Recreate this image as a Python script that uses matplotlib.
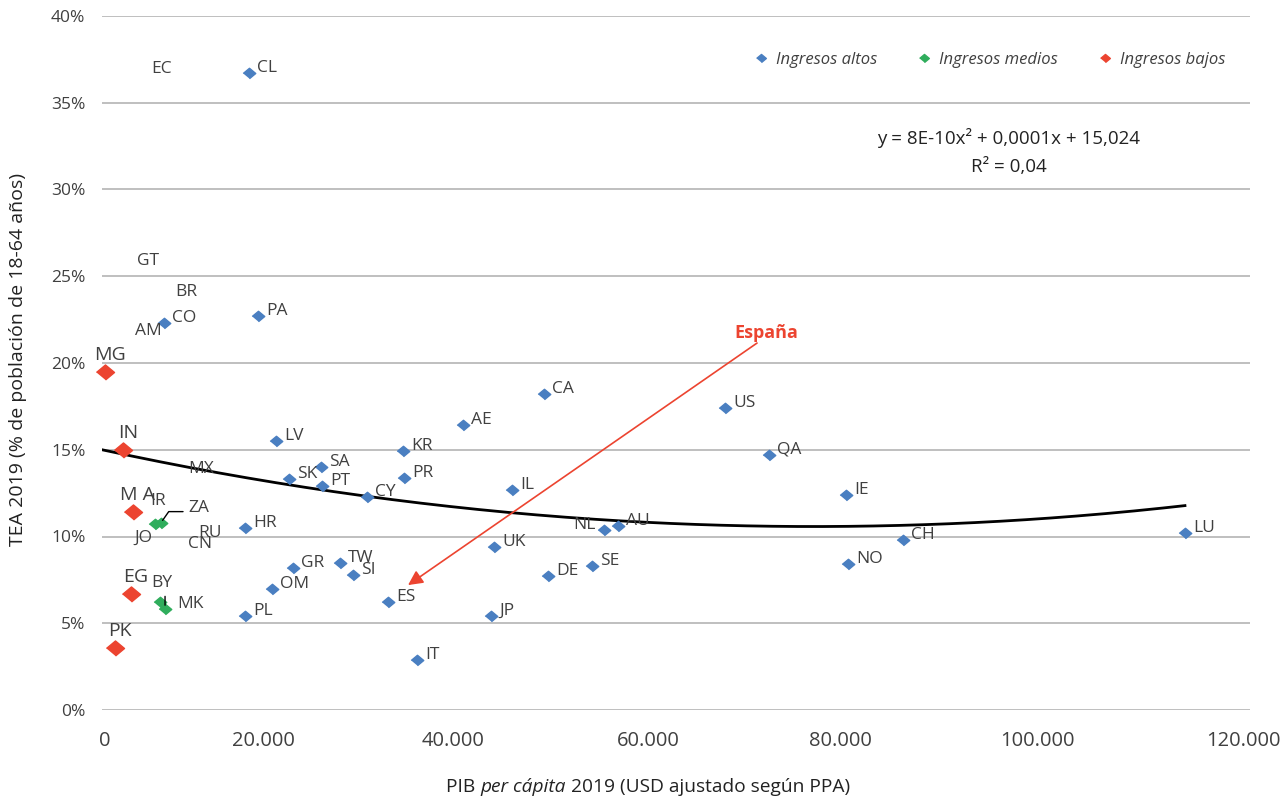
import numpy as np
import matplotlib
matplotlib.use('Agg')
from matplotlib import pyplot as plt
from matplotlib.lines import Line2D
from matplotlib.transforms import ScaledTranslation

# Ingresos altos (PIB per capita USD PPA, TEA %)
alto_cod = ['CL', 'CO', 'PA', 'LV', 'SK', 'SA', 'PT', 'CY', 'HR', 'KR', 'PR',
            'AE', 'CA', 'US', 'QA', 'IL', 'IE', 'NL', 'AU', 'CH', 'LU', 'UK',
            'NO', 'DE', 'SE', 'TW', 'SI', 'GR', 'OM', 'PL', 'ES', 'JP', 'IT']
alto_pib = [15370, 6480, 16310, 18190, 19550, 22890, 23000, 27700, 14950, 31460, 31570,
            37730, 46200, 65120, 69720, 42860, 77770, 52470, 53940, 83730, 113200, 40980,
            77980, 46620, 51220, 24880, 26240, 19970, 17770, 14950, 29900, 40660, 32930]
alto_tea = [36.7, 22.3, 22.7, 15.5, 13.3, 14.0, 12.9, 12.3, 10.5, 14.9, 13.4,
            16.4, 18.2, 17.4, 14.7, 12.7, 12.4, 10.4, 10.6, 9.8, 10.2, 9.4,
            8.4, 7.7, 8.3, 8.5, 7.8, 8.2, 7.0, 5.4, 6.2, 5.4, 2.9]

# Ingresos medios
medio_cod = ['IR', 'ZA', 'BY', 'MK']
medio_pib = [5540, 6170, 6060, 6590]
medio_tea = [10.7, 10.8, 6.2, 5.8]

# Ingresos bajos
bajo_cod = ['MG', 'IN', 'M A', 'EG', 'PK']
bajo_pib = [310, 2200, 3240, 3030, 1360]
bajo_tea = [19.5, 15.0, 11.4, 6.7, 3.6]

# etiquetas sin marcador visible
solo_cod = ['EC', 'GT', 'BR', 'AM', 'MX', 'IR', 'ZA', 'JO', 'RU', 'CN', 'BY', 'MK']
solo_pib = [6270, 4810, 8780, 4810, 10350, 5850, 10140, 4290, 11290, 10240, 6270, 9200]
solo_tea = [36.95, 25.9, 24.1, 21.85, 13.9, 12.05, 11.65, 9.95, 10.2, 9.55, 7.3, 6.1]

# tendencia polinómica (curva dibujada)
tend_coef = [8.0e-10, -1.19e-4, 15.0]
tend_max = 113200

x_ticks = [0, 20000, 40000, 60000, 80000, 100000, 120000]
x_ticklabels = ['0', '20.000', '40.000', '60.000', '80.000', '100.000', '120.000']
y_ticks = [0, 5, 10, 15, 20, 25, 30, 35, 40]

AZUL = '#4a7fc1'
VERDE = '#2fad5c'
ROJO = '#ec4430'
GRIS = '#404040'
diamante = [(-1.2, 0), (0, 1), (1.2, 0), (0, -1)]

plt.rcParams['font.family'] = ['Open Sans', 'DejaVu Sans']

fig = plt.figure(figsize=(12.88, 8), dpi=100)
ax = fig.add_axes([102 / 1288, 1 - 710 / 800, 1148 / 1288, 694 / 800])

ax.set_xlim(0, 120000)
ax.set_ylim(0, 40)
ax.set_xticks(x_ticks)
ax.set_xticklabels(x_ticklabels)
ax.set_yticks(y_ticks)
ax.set_yticklabels(['%d%%' % v for v in y_ticks])
ax.tick_params(length=0, labelcolor=GRIS)
ax.tick_params(axis='x', pad=15, labelsize=14.5)
ax.tick_params(axis='y', pad=12, labelsize=12.5)
# las etiquetas del eje x del original no caen justo bajo cada valor
desplaz = [3, -30, -32, -28, -27, -21, -7]
for lab, dx in zip(ax.get_xticklabels(), desplaz):
    lab.set_transform(lab.get_transform() + ScaledTranslation(dx / 100, 0, fig.dpi_scale_trans))
for s in ax.spines.values():
    s.set_visible(False)
ax.grid(axis='y', color='#b4b4b4', linewidth=1.2)
ax.set_axisbelow(True)

# curva de tendencia
xs = np.linspace(0, tend_max, 300)
ax.plot(xs, np.polyval(tend_coef, xs), color='black', lw=2, zorder=2)

ax.plot(alto_pib, alto_tea, ls='none', marker=diamante, ms=9, color=AZUL, zorder=3)
ax.plot(medio_pib, medio_tea, ls='none', marker=diamante, ms=9, color=VERDE, zorder=3)
ax.plot(bajo_pib, bajo_tea, ls='none', marker=diamante, ms=13, color=ROJO, zorder=3,
        clip_on=False)

for c, x, y in zip(alto_cod, alto_pib, alto_tea):
    if c == 'NL':
        ax.annotate(c, (x, y), xytext=(-8, 5), textcoords='offset pixels',
                    ha='right', va='center', fontsize=12.5, color=GRIS)
    else:
        ax.annotate(c, (x, y), xytext=(8, 5), textcoords='offset pixels',
                    ha='left', va='center', fontsize=12.5, color=GRIS)

for c, x, y in zip(bajo_cod, bajo_pib, bajo_tea):
    ax.annotate(c, (x, y), xytext=(5, 17), textcoords='offset pixels',
                ha='center', va='center', fontsize=14, color=GRIS)

for c, x, y in zip(solo_cod, solo_pib, solo_tea):
    ax.text(x, y, c, ha='center', va='center', fontsize=12.5, color=GRIS)

# líneas guía ZA y MK
ax.annotate('', xy=(medio_pib[1], medio_tea[1]), xytext=(22, 11), textcoords='offset pixels',
            arrowprops=dict(arrowstyle='-', color='black', lw=1, shrinkA=0, shrinkB=2,
                            connectionstyle='angle,angleA=0,angleB=55,rad=0'))
ax.annotate('', xy=(medio_pib[3], medio_tea[3]), xytext=(0, 13), textcoords='offset pixels',
            arrowprops=dict(arrowstyle='-', color='black', lw=1, shrinkA=0, shrinkB=3))

# España
ax.annotate('', xy=(31990, 7.2), xytext=(68470, 21.15),
            arrowprops=dict(arrowstyle='-|>', color=ROJO, lw=1.2, mutation_scale=22,
                            shrinkA=0, shrinkB=0))
ax.text(69400, 21.75, 'España', color=ROJO, fontsize=13, fontweight='bold',
        ha='center', va='center')

# ecuación
ax.text(0.790, 0.824, 'y = 8E-10x² + 0,0001x + 15,024', transform=ax.transAxes,
        ha='center', va='center', fontsize=13.5, color='#222222')
ax.text(0.790, 0.782, 'R² = 0,04', transform=ax.transAxes,
        ha='center', va='center', fontsize=13.5, color='#222222')

# leyenda
handles = [Line2D([], [], ls='none', marker=diamante, ms=7, color=c) for c in (AZUL, VERDE, ROJO)]
leg = ax.legend(handles, ['Ingresos altos', 'Ingresos medios', 'Ingresos bajos'],
                ncol=3, frameon=False, loc='center right',
                bbox_to_anchor=(1240 / 1288, 1 - 60 / 800), bbox_transform=fig.transFigure,
                prop={'style': 'italic', 'size': 12}, handletextpad=0.3,
                columnspacing=2.2, handlelength=1.2)
for t in leg.get_texts():
    t.set_color(GRIS)

# ejes
fig.text(18 / 1288, 1 - 360 / 800, 'TEA 2019 (% de población de 18-64 años)', rotation=90,
         ha='center', va='center', fontsize=14, color='#222222')
t1 = fig.text(446 / 1288, 1 - 787 / 800, 'PIB ', ha='left', va='center', fontsize=13.8,
              color='#222222')
t2 = ax.annotate('per cápita', xy=(1, 0), xycoords=t1, ha='left', va='bottom',
                 fontsize=13.8, color='#222222', style='italic')
ax.annotate(' 2019 (USD ajustado según PPA)', xy=(1, 0), xycoords=t2, ha='left', va='bottom',
            fontsize=13.8, color='#222222')

fig.savefig('out.png', dpi=100)
